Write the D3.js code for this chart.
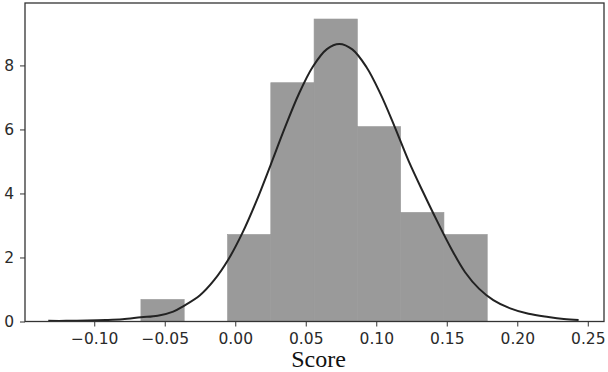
<!DOCTYPE html>
<html>
<head>
<meta charset="utf-8">
<script src="https://cdn.jsdelivr.net/npm/d3@7"></script>
<style>
    body { margin: 0; background: #fff; }
    svg { display: block; }
    .tick text { font-family: "DejaVu Sans", sans-serif; font-size: 15.5px; fill: #2a2a2a; }
</style>
</head>
<body>
<div id="chart"></div>
<script>
// histogram bins (edges) and bar heights (density)
const binEdges = [-0.0669, -0.0362, -0.0055, 0.0252, 0.0559, 0.0866, 0.1173, 0.148, 0.1787];
const densities = [0.69, 0, 2.72, 7.46, 9.45, 6.09, 3.41, 2.72];

// density curve
const curveX = [-0.1326, -0.12, -0.105, -0.092, -0.08, -0.0669, -0.055, -0.044, -0.0364, -0.025,
    -0.015, -0.005, 0.005, 0.015, 0.025, 0.035, 0.045, 0.055, 0.065, 0.0738,
    0.083, 0.093, 0.103, 0.113, 0.123, 0.133, 0.143, 0.153, 0.163, 0.173,
    0.183, 0.195, 0.208, 0.222, 0.233, 0.2435];
const curveY = [0.02, 0.02, 0.03, 0.045, 0.07, 0.13, 0.18, 0.31, 0.49, 0.82,
    1.29, 1.93, 2.76, 3.76, 4.88, 6.03, 7.10, 7.96, 8.51, 8.67,
    8.50, 7.95, 7.11, 6.09, 5.01, 4.06, 3.15, 2.29, 1.54, 1.02,
    0.67, 0.41, 0.24, 0.14, 0.08, 0.05];

const xTicks = [-0.10, -0.05, 0.00, 0.05, 0.10, 0.15, 0.20, 0.25];
const yTicks = [0, 2, 4, 6, 8];
const xLabel = "Score";

const width = 608;
const height = 372;
const plotLeft = 25, plotRight = 604, plotTop = 3, plotBottom = 321.5;

const svg = d3.select('#chart')
    .append('svg')
    .attr('width', width)
    .attr('height', height);

const xScale = d3.scaleLinear()
    .domain([-0.1491, 0.2615])
    .range([plotLeft, plotRight]);

const yScale = d3.scaleLinear()
    .domain([0, 9.95])
    .range([plotBottom, plotTop]);

// bars
const bins = densities.map((d, i) => ({ x0: binEdges[i], x1: binEdges[i + 1], h: d }));

svg.selectAll('rect.bar')
    .data(bins.filter(b => b.h > 0))
    .enter()
    .append('rect')
    .attr('class', 'bar')
    .attr('x', d => xScale(d.x0))
    .attr('y', d => yScale(d.h))
    .attr('width', d => xScale(d.x1) - xScale(d.x0))
    .attr('height', d => yScale(0) - yScale(d.h))
    .attr('fill', '#9a9a9a')
    .attr('stroke', '#9a9a9a')
    .attr('stroke-width', 0.6);

// curve
const line = d3.line()
    .x(d => xScale(d[0]))
    .y(d => yScale(d[1]))
    .curve(d3.curveCatmullRom.alpha(0.5));

svg.append('path')
    .datum(curveX.map((x, i) => [x, curveY[i]]))
    .attr('d', line)
    .attr('fill', 'none')
    .attr('stroke', '#222')
    .attr('stroke-width', 2);

// axes
const xAxis = d3.axisBottom(xScale)
    .tickValues(xTicks)
    .tickFormat(d3.format('.2f'))
    .tickSize(5)
    .tickPadding(6);

const yAxis = d3.axisLeft(yScale)
    .tickValues(yTicks)
    .tickFormat(d3.format('d'))
    .tickSize(5)
    .tickPadding(6);

svg.append('g')
    .attr('transform', `translate(0, ${plotBottom})`)
    .call(xAxis)
    .call(g => g.select('.domain').remove());

svg.append('g')
    .attr('transform', `translate(${plotLeft}, 0)`)
    .call(yAxis)
    .call(g => g.select('.domain').remove());

svg.selectAll('.tick line').attr('stroke', '#333');

// frame
svg.append('rect')
    .attr('x', plotLeft)
    .attr('y', plotTop)
    .attr('width', plotRight - plotLeft)
    .attr('height', plotBottom - plotTop)
    .attr('fill', 'none')
    .attr('stroke', '#333')
    .attr('stroke-width', 1.3);

svg.append('text')
    .attr('x', (plotLeft + plotRight) / 2 + 4)
    .attr('y', 367)
    .attr('text-anchor', 'middle')
    .style('font-family', '"Liberation Serif", serif')
    .style('font-size', '24px')
    .style('fill', '#111')
    .text(xLabel);
</script>
</body>
</html>
